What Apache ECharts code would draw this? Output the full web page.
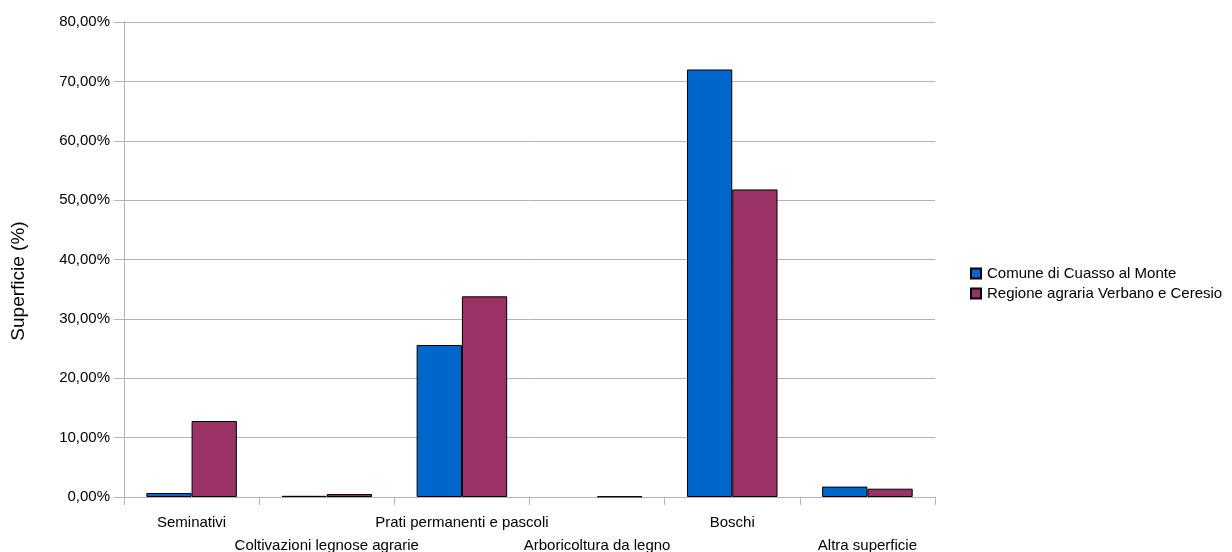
<!DOCTYPE html>
<html><head><meta charset="utf-8">
<script src="https://cdn.jsdelivr.net/npm/echarts@6/dist/echarts.min.js"></script>
<style>html,body{margin:0;padding:0;background:#fff;overflow:hidden}#c{width:1232px;height:552px}</style>
</head><body><div id="c"></div>
<script>
const categories = ['Seminativi', 'Coltivazioni legnose agrarie', 'Prati permanenti e pascoli', 'Arboricoltura da legno', 'Boschi', 'Altra superficie'];
const comune = [0.67, 0.2, 25.6, null, 72.0, 1.75];
const regione = [12.8, 0.5, 33.8, 0.1, 51.8, 1.4];
const seriesNames = ['Comune di Cuasso al Monte', 'Regione agraria Verbano e Ceresio'];
const yTicks = { min: 0, max: 80, interval: 10 };
const yTitle = 'Superficie (%)';

const font = 'Liberation Sans, Arial, sans-serif';
const chart = echarts.init(document.getElementById('c'), null, { renderer: 'canvas', width: 1232, height: 552 });
chart.setOption({
  animation: false,
  textStyle: { fontFamily: font },
  grid: { left: 124, right: 297, top: 22, bottom: 55, containLabel: false, outerBoundsMode: 'none' },
  legend: {
    orient: 'vertical', left: 965, top: 261, itemWidth: 10, itemHeight: 10, itemGap: 5,
    icon: 'rect',
    textStyle: { fontFamily: font, fontSize: 15, color: '#000', padding: [0, 0, 0, 1] },
    data: seriesNames
  },
  graphic: [{
    type: 'text', x: 19, y: 281, rotation: Math.PI / 2,
    style: { text: yTitle, fontSize: 19, fontFamily: font, fill: '#000', align: 'center', verticalAlign: 'middle' }
  }],
  xAxis: {
    type: 'category', data: categories,
    axisLine: { show: true, lineStyle: { color: '#b3b3b3' } },
    axisTick: { show: true, length: 8, lineStyle: { color: '#b3b3b3' } },
    axisLabel: {
      interval: 0, margin: 14, color: '#000', fontSize: 15, fontFamily: font, lineHeight: 23,
      formatter: (v, i) => i % 2 === 1 ? '\n' + v : v
    }
  },
  yAxis: {
    type: 'value', min: yTicks.min, max: yTicks.max, interval: yTicks.interval,
    axisLine: { show: true, lineStyle: { color: '#b3b3b3' } },
    axisTick: { show: true, inside: false, length: 10, lineStyle: { color: '#b3b3b3' } },
    splitLine: { lineStyle: { color: '#b3b3b3' } },
    axisLabel: { margin: 14, color: '#000', fontSize: 15, fontFamily: font,
      formatter: v => v.toFixed(2).replace('.', ',') + '%' }
  },
  series: [
    { name: seriesNames[0], type: 'bar', data: comune, barGap: '0%', barCategoryGap: '33%',
      itemStyle: { color: '#0066cc', borderColor: '#000', borderWidth: 1 } },
    { name: seriesNames[1], type: 'bar', data: regione, barGap: '0%', barCategoryGap: '33%',
      itemStyle: { color: '#993366', borderColor: '#000', borderWidth: 1 } }
  ]
});
</script></body></html>
